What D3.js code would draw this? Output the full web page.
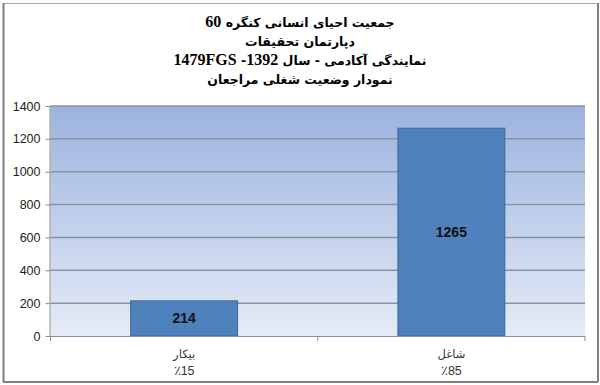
<!DOCTYPE html>
<html><head><meta charset="utf-8">
<script src="https://cdn.jsdelivr.net/npm/d3@7"></script>
<style>body{margin:0;background:#fff}</style>
</head><body>
<svg id="c" width="600" height="385"></svg>
<script>
const titleLines = ["جمعیت احیای انسانی کنگره 60", "دپارتمان تحقیقات", "نمایندگی آکادمی - سال 1392- 1479FGS", "نمودار وضعیت شغلی مراجعان"];
const categories = ["بیکار", "شاغل"];
const percents = ["٪15", "٪85"];
const values = [214, 1265];
const yTicks = [0, 200, 400, 600, 800, 1000, 1200, 1400];

const svg = d3.select("#c");
const W = 600, H = 385;
const m = {l: 50.5, r: 15, t: 106, b: 49};
const x0 = m.l, x1 = W - m.r, y0 = H - m.b, y1 = m.t;

// outer frame
svg.append("rect").attr("x", 3.5).attr("y", 3.5).attr("width", 594).attr("height", 378)
  .attr("fill", "none").attr("stroke", "#a6a6a6").attr("stroke-width", 1);
svg.append("line").attr("x1", 3.5).attr("x2", 3.5).attr("y1", 3).attr("y2", 382).attr("stroke", "#7f7f7f").attr("stroke-width", 2);
svg.append("line").attr("x1", 598).attr("x2", 598).attr("y1", 3).attr("y2", 382).attr("stroke", "#7f7f7f").attr("stroke-width", 2);
svg.append("line").attr("x1", 3).attr("x2", 598).attr("y1", 382).attr("y2", 382).attr("stroke", "#7f7f7f").attr("stroke-width", 2);

const x = d3.scaleBand().domain(categories).range([x0, x1]).paddingInner(0.6).paddingOuter(0.3);
const y = d3.scaleLinear().domain([0, 1400]).range([y0, y1]);

const defs = svg.append("defs");
const g = defs.append("linearGradient").attr("id", "bg").attr("x1", 0).attr("x2", 0).attr("y1", 0).attr("y2", 1);
g.append("stop").attr("offset", "0%").attr("stop-color", "#9bb3df");
g.append("stop").attr("offset", "100%").attr("stop-color", "#e5ebf6");

svg.append("rect").attr("x", x0).attr("y", y1).attr("width", x1 - x0).attr("height", y0 - y1).attr("fill", "url(#bg)");

// gridlines
svg.append("g").selectAll("line").data(yTicks.filter(d => d > 0)).join("line")
  .attr("x1", x0).attr("x2", x1).attr("y1", d => y(d)).attr("y2", d => y(d))
  .attr("stroke", "#8a929e").attr("stroke-width", 1.5);

// bars
svg.append("g").selectAll("rect").data(values).join("rect")
  .attr("x", (d, i) => x(categories[i])).attr("width", x.bandwidth())
  .attr("y", d => y(d)).attr("height", d => y0 - y(d))
  .attr("fill", "#4f81bd").attr("stroke", "#3d6797").attr("stroke-width", 1);

svg.append("g").selectAll("text").data(values).join("text")
  .attr("x", (d, i) => x(categories[i]) + x.bandwidth() / 2)
  .attr("y", d => (y(d) + y0) / 2 + 5)
  .attr("text-anchor", "middle").attr("font-family", "Liberation Sans, Arial, sans-serif")
  .attr("font-weight", "bold").attr("font-size", 14).attr("fill", "#111").text(d => d);

// y axis
const ya = svg.append("g").attr("transform", `translate(${x0},0)`)
  .call(d3.axisLeft(y).tickValues(yTicks).tickSize(5).tickPadding(5).tickFormat(d3.format("d")));
ya.select(".domain").attr("stroke", "#8c8c8c").attr("d", `M-0.5,${y1}V${y0}`);
ya.selectAll(".tick line").attr("stroke", "#8c8c8c");
ya.selectAll(".tick text").attr("font-family", "Liberation Sans, Arial, sans-serif").attr("font-size", 12.5).attr("fill", "#222");

// x axis
const xa = svg.append("g").attr("transform", `translate(0,${y0})`);
xa.append("line").attr("x1", x0).attr("x2", x1).attr("y1", 0.5).attr("y2", 0.5).attr("stroke", "#8c8c8c");
xa.selectAll(".tk").data([x0, x0 + (x1 - x0) / 2, x1]).join("line")
  .attr("x1", d => d).attr("x2", d => d).attr("y1", 0).attr("y2", 5).attr("stroke", "#8c8c8c");
const cl = xa.selectAll(".cl").data(categories).join("g")
  .attr("transform", d => `translate(${x(d) + x.bandwidth() / 2},0)`);
cl.append("text").attr("y", 22).attr("text-anchor", "middle").attr("font-family", "DejaVu Sans, sans-serif")
  .attr("font-size", 11.5).attr("fill", "#333").text(d => d);
cl.append("text").attr("y", 39).attr("text-anchor", "middle").attr("font-family", "Liberation Sans, Arial, sans-serif")
  .attr("font-size", 12.5).attr("fill", "#333").attr("direction", "ltr").text((d, i) => percents[i]);

// title: split into Latin/digit runs (serif, larger) and Arabic runs
const tg = svg.append("g");
titleLines.forEach((line, i) => {
  const t = tg.append("text").attr("x", 300).attr("y", 27 + i * 19)
    .attr("text-anchor", "middle").attr("direction", "rtl")
    .attr("font-weight", "bold").attr("fill", "#000");
  const parts = line.split(/([0-9A-Za-z]+)/).filter(s => s.length);
  parts.forEach(p => {
    const latin = /^[0-9A-Za-z]+$/.test(p);
    t.append("tspan")
      .attr("font-family", latin ? "Liberation Serif, serif" : "DejaVu Sans, sans-serif")
      .attr("font-size", latin ? 16 : 12.5).text(p);
  });
});
</script>
</body></html>
